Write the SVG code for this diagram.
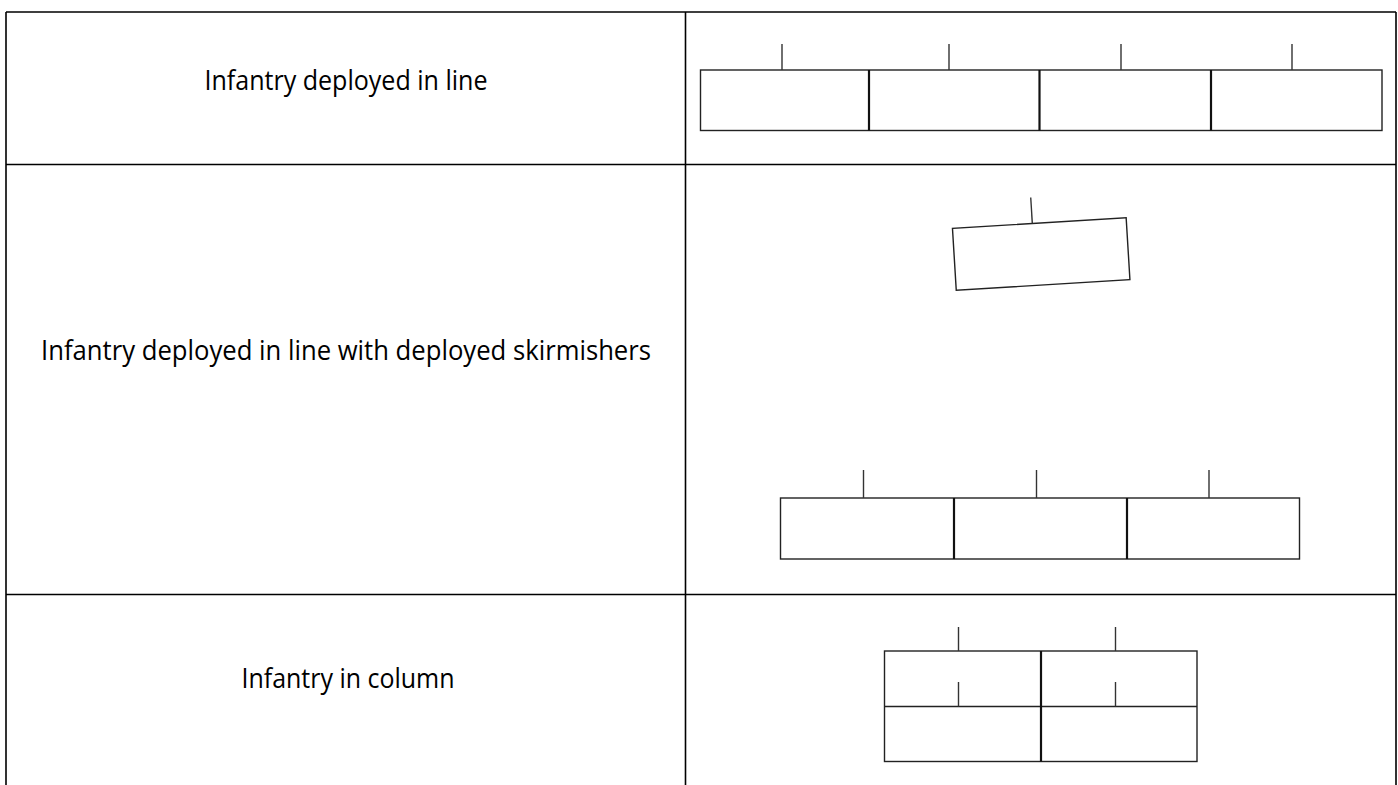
<svg xmlns="http://www.w3.org/2000/svg" width="1398" height="785" viewBox="0 0 1398 785">
<style>
.grid{stroke:#000;stroke-width:1.6;fill:none}
.box{stroke:#222;stroke-width:1.4;fill:#fff}
.div{stroke:#111;stroke-width:2.2}
.tick{stroke:#333;stroke-width:1.4}
.lbl{font-family:"Open Sans","Noto Sans",sans-serif;font-size:27px;fill:#000;text-anchor:middle}
</style>
<rect width="1398" height="785" fill="#fff"/>
<g id="table">
<path class="grid" d="M6,12 H1396 M6,164.5 H1396 M6,594.5 H1396 M6,12 V785 M685.5,12 V785 M1396,12 V785"/>
</g>
<g id="label-line"><text class="lbl" x="346" y="90" textLength="283" lengthAdjust="spacingAndGlyphs">Infantry deployed in line</text></g>
<g id="label-skirmishers"><text class="lbl" x="346" y="360" textLength="610" lengthAdjust="spacingAndGlyphs">Infantry deployed in line with deployed skirmishers</text></g>
<g id="label-column"><text class="lbl" x="348" y="688" textLength="213" lengthAdjust="spacingAndGlyphs">Infantry in column</text></g>
<g id="line-formation">
<rect class="box" x="700.5" y="70" width="681.5" height="60.5"/>
<line class="div" x1="869" y1="70" x2="869" y2="130.5"/>
<line class="div" x1="1039.5" y1="70" x2="1039.5" y2="130.5"/>
<line class="div" x1="1211" y1="70" x2="1211" y2="130.5"/>
<line class="tick" x1="782" y1="44" x2="782" y2="70"/>
<line class="tick" x1="949" y1="44" x2="949" y2="70"/>
<line class="tick" x1="1121" y1="44" x2="1121" y2="70"/>
<line class="tick" x1="1292" y1="44" x2="1292" y2="70"/>
</g>
<g id="skirmishers" transform="translate(1041.2,254) rotate(-3.5)">
<rect class="box" x="-87" y="-31" width="174" height="62" stroke-width="1.6"/>
<line class="tick" x1="-7" y1="-31" x2="-7" y2="-57"/>
</g>
<g id="line-with-skirmishers">
<rect class="box" x="780.5" y="498" width="519" height="61"/>
<line class="div" x1="954" y1="498" x2="954" y2="559"/>
<line class="div" x1="1127" y1="498" x2="1127" y2="559"/>
<line class="tick" x1="863.5" y1="470" x2="863.5" y2="498"/>
<line class="tick" x1="1036.5" y1="470" x2="1036.5" y2="498"/>
<line class="tick" x1="1209" y1="470" x2="1209" y2="498"/>
</g>
<g id="column">
<rect class="box" x="884.5" y="651" width="312.5" height="110.5"/>
<line class="box" x1="884.5" y1="706.5" x2="1197" y2="706.5"/>
<line class="div" x1="1041" y1="651" x2="1041" y2="761.5"/>
<line class="tick" x1="958.5" y1="627" x2="958.5" y2="651"/>
<line class="tick" x1="1115.5" y1="627" x2="1115.5" y2="651"/>
<line class="tick" x1="958.5" y1="682" x2="958.5" y2="706.5"/>
<line class="tick" x1="1115.5" y1="682" x2="1115.5" y2="706.5"/>
</g>
</svg>
